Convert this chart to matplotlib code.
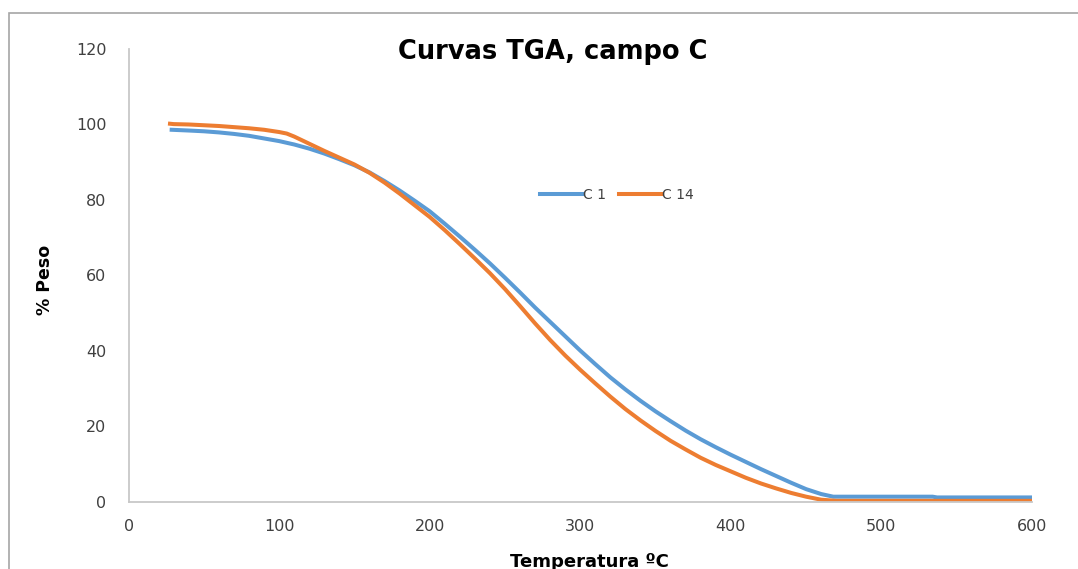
import matplotlib
matplotlib.use("Agg")
import matplotlib.pyplot as plt
from matplotlib.patches import Rectangle

# datos
temp_c1 = [28.6, 40, 50, 60, 70, 80, 90, 100, 110, 120, 130, 140, 150, 160, 170,
           180, 190, 200, 210, 220, 230, 240, 250, 260, 270, 280, 290, 300, 310,
           320, 330, 340, 350, 360, 370, 380, 390, 400, 410, 420, 430, 440, 450,
           460, 468, 500, 534, 537, 600]
peso_c1 = [98.6, 98.4, 98.2, 97.9, 97.5, 97.0, 96.3, 95.6, 94.7, 93.6, 92.3, 90.8,
           89.2, 87.3, 85.0, 82.5, 79.8, 77.0, 73.7, 70.3, 66.8, 63.2, 59.4, 55.5,
           51.5, 47.7, 43.9, 40.1, 36.5, 33.0, 29.8, 26.8, 24.0, 21.4, 18.9, 16.6,
           14.5, 12.5, 10.6, 8.7, 6.9, 5.1, 3.4, 2.1, 1.4, 1.4, 1.4, 1.2, 1.2]

temp_c14 = [27.5, 30, 40, 50, 60, 70, 80, 90, 100, 105, 110, 120, 130, 140, 150,
            160, 170, 180, 190, 200, 210, 220, 230, 240, 250, 260, 270, 280, 290,
            300, 310, 320, 330, 340, 350, 360, 370, 380, 390, 400, 410, 420, 430,
            440, 450, 460, 470, 600]
peso_c14 = [100.2, 100.1, 100.0, 99.8, 99.6, 99.3, 99.0, 98.6, 98.0, 97.6, 96.8,
            94.9, 93.0, 91.2, 89.4, 87.2, 84.6, 81.7, 78.6, 75.5, 72.0, 68.3, 64.5,
            60.6, 56.4, 51.9, 47.3, 42.9, 38.8, 35.0, 31.4, 27.9, 24.6, 21.6, 18.8,
            16.2, 13.9, 11.7, 9.8, 8.1, 6.4, 4.9, 3.6, 2.4, 1.4, 0.6, 0.3, 0.3]

x_ticks = [0, 100, 200, 300, 400, 500, 600]
y_ticks = [0, 20, 40, 60, 80, 100, 120]

fig = plt.figure(figsize=(10.78, 5.69), dpi=100)
ax = fig.add_axes([0.1193, 0.1178, 0.838, 0.7961])

ax.plot(temp_c1, peso_c1, color="#5B9BD5", lw=2.9, label="C 1")
ax.plot(temp_c14, peso_c14, color="#ED7D31", lw=2.9, label="C 14")

ax.set_xlim(0, 600)
ax.set_ylim(0, 120)
ax.set_xticks(x_ticks)
ax.set_yticks(y_ticks)

for s in ["top", "right"]:
    ax.spines[s].set_visible(False)
for s in ["left", "bottom"]:
    ax.spines[s].set_color("#c8c8c8")
    ax.spines[s].set_linewidth(1.3)

ax.tick_params(axis="both", length=0, labelsize=11.5, colors="#404040")
ax.tick_params(axis="x", pad=12)
ax.tick_params(axis="y", pad=16)

fig.text(0.5126, 0.9086, "Curvas TGA, campo C", ha="center", va="center",
         fontsize=18.5, fontweight="bold")
fig.text(0.0418, 0.508, "% Peso", rotation=90, ha="center", va="center",
         fontsize=12.5, fontweight="bold")
fig.text(0.547, 1 - 553 / 569, "Temperatura ºC", ha="center", va="top",
         fontsize=13, fontweight="bold")

ax.legend(loc="center", bbox_to_anchor=(617 / 1078, 1 - 195 / 569),
          bbox_transform=fig.transFigure, ncol=2, frameon=False, fontsize=10,
          handlelength=3.0, handletextpad=0.1, columnspacing=0.9,
          labelcolor="#404040")

# marco del grafico
fig.patches.append(Rectangle((9 / 1078, -0.1), 1.2, 1.1 - 13 / 569,
                             transform=fig.transFigure, fill=False,
                             edgecolor="#a6a6a6", lw=1.2))

fig.savefig("out.png", dpi=100)
